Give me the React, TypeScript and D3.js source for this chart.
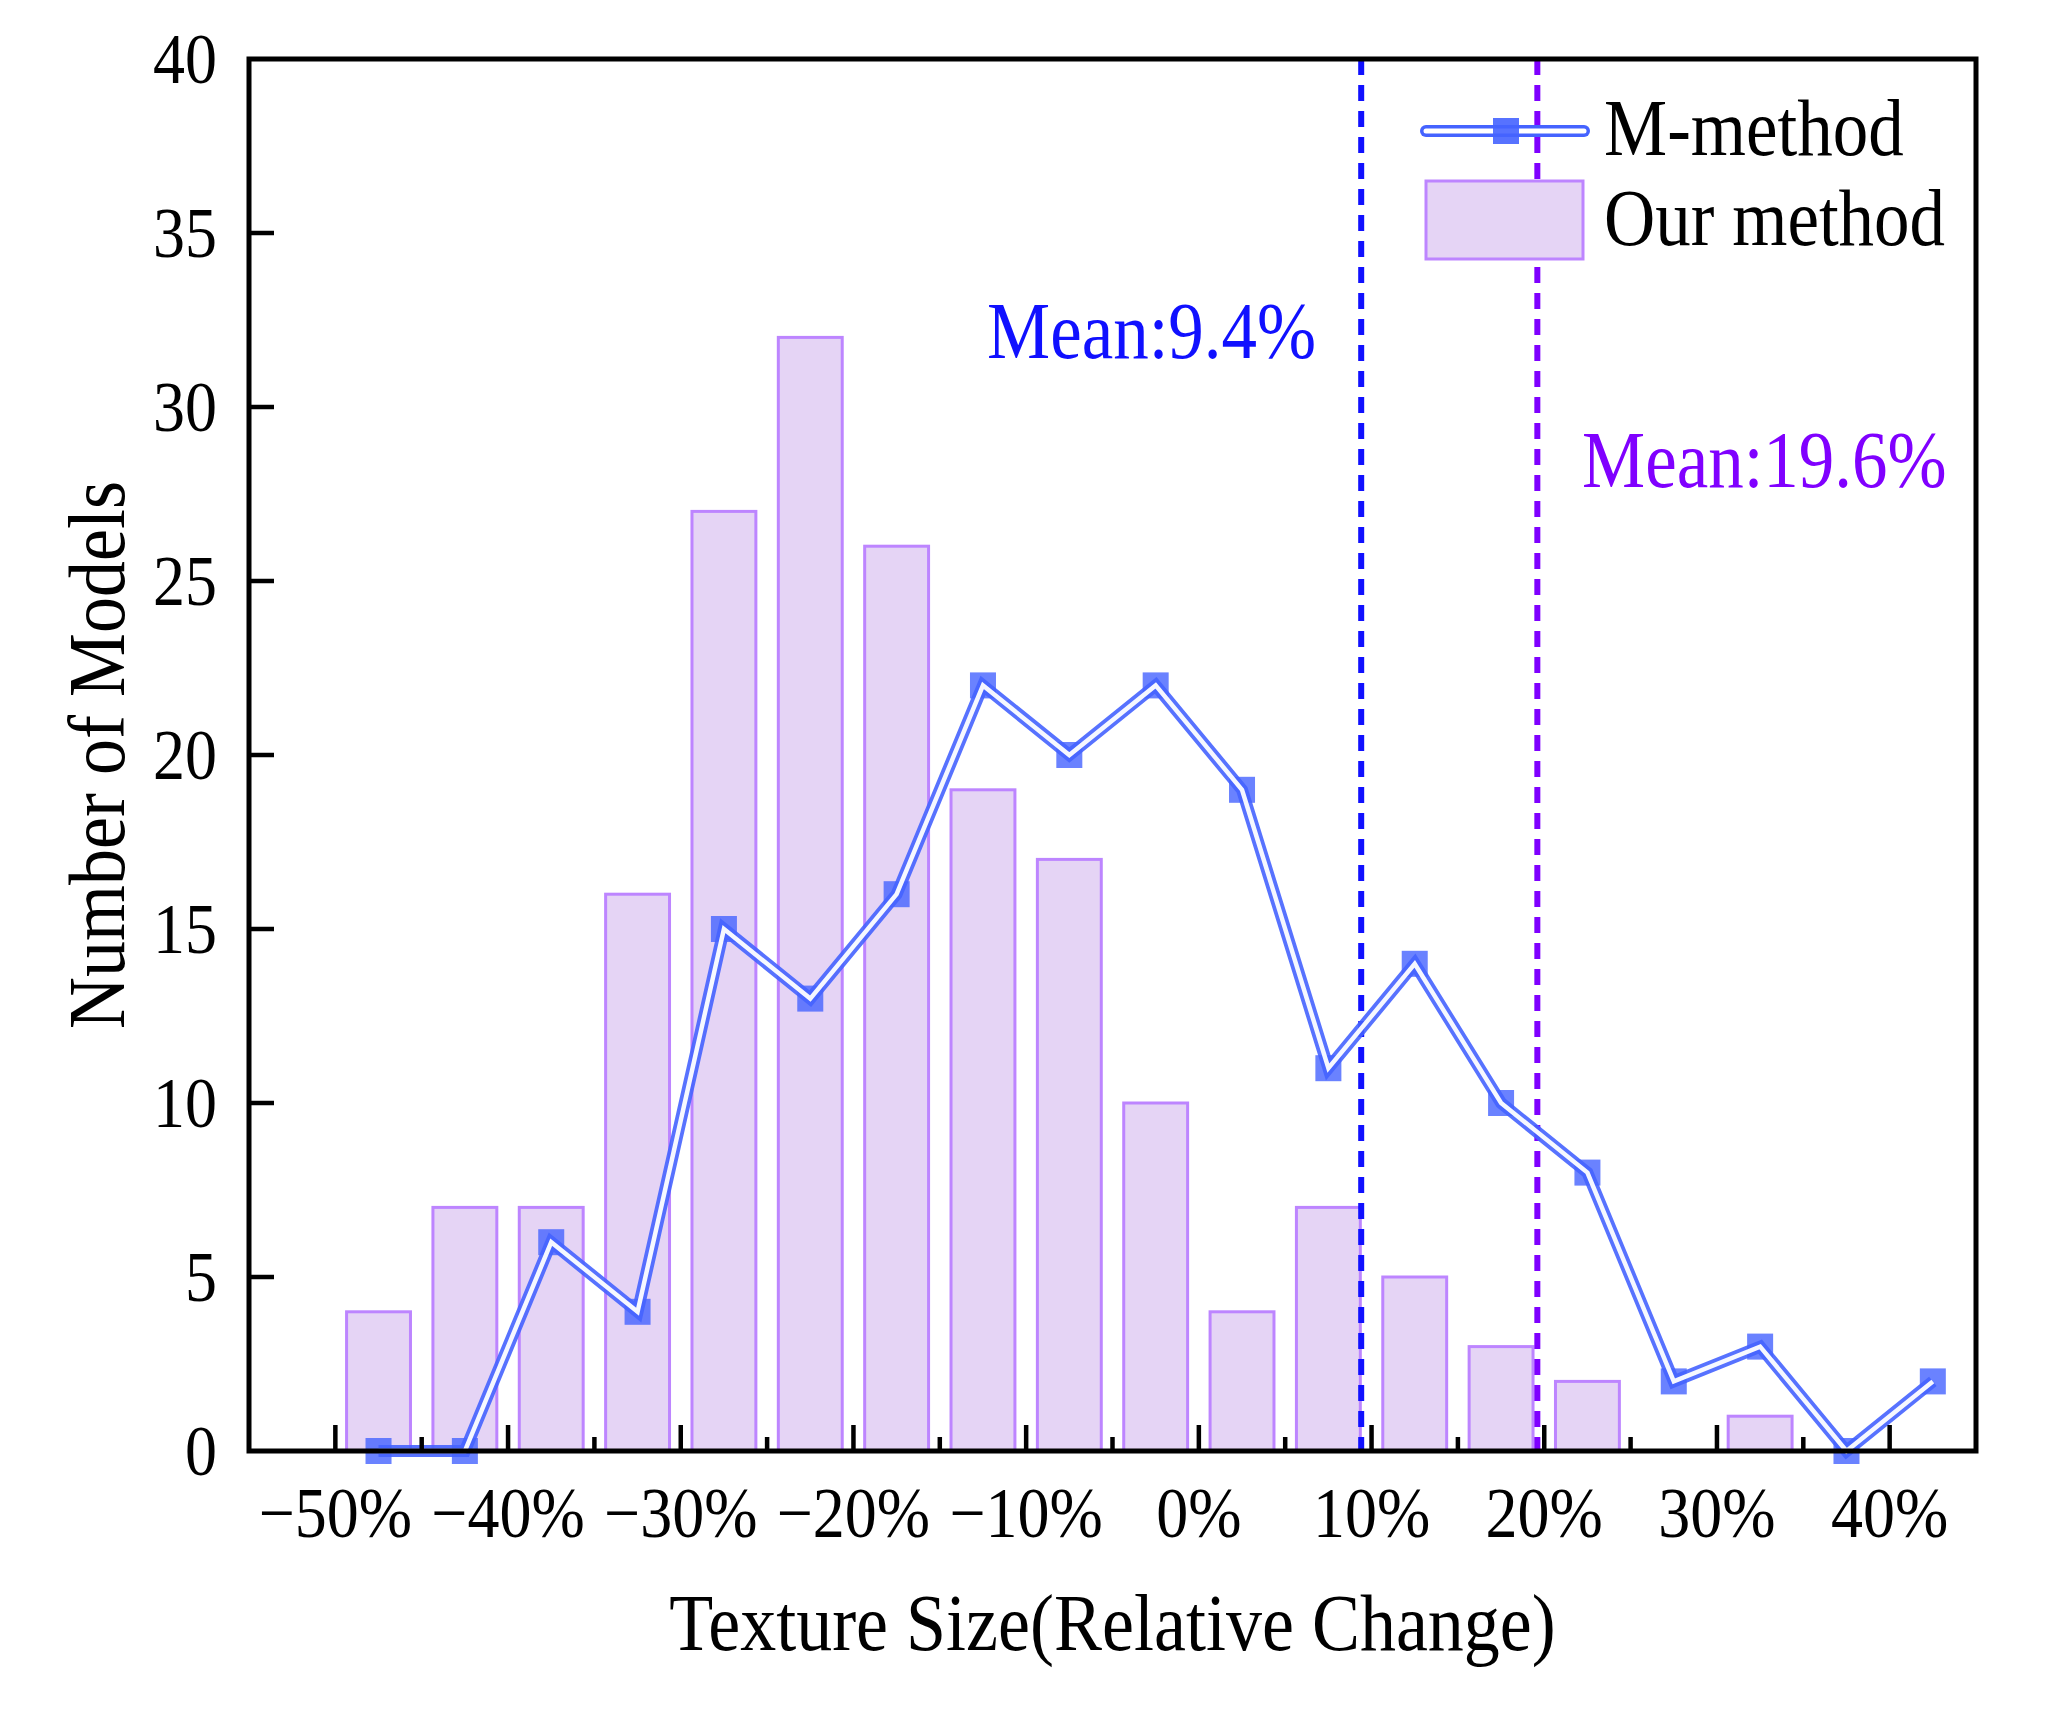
import * as d3 from "d3";

// bin centres (% relative change), 5% bins
const binCenters = [
  -47.5, -42.5, -37.5, -32.5, -27.5, -22.5, -17.5, -12.5, -7.5, -2.5,
  2.5, 7.5, 12.5, 17.5, 22.5, 27.5, 32.5, 37.5, 42.5,
];
const ourMethod = [4, 7, 7, 16, 27, 32, 26, 19, 17, 10, 4, 7, 5, 3, 2, 0, 1, 0, 0];
const mMethod = [0, 0, 6, 4, 15, 13, 16, 22, 20, 22, 19, 11, 14, 10, 8, 2, 3, 0, 2];

const xMajorTicks = [-50, -40, -30, -20, -10, 0, 10, 20, 30, 40];
const xMinorTicks = [-45, -35, -25, -15, -5, 5, 15, 25, 35];
const xTickLabels = ["\u221250%", "\u221240%", "\u221230%", "\u221220%", "\u221210%", "0%", "10%", "20%", "30%", "40%"];
const yTicks = [0, 5, 10, 15, 20, 25, 30, 35, 40];

const meanM = 9.4;
const meanOur = 19.6;

const W = 2059;
const H = 1713;
const margin = { left: 249, right: 83, top: 59, bottom: 262 };
const FONT = "'Liberation Serif', 'Times New Roman', serif";
// the original glyphs are a little taller than wide
const STRETCH = 1.12;

const LINE_BLUE = "#4563ff";
const BAR_FILL = "#e5d4f5";
const BAR_STROKE = "#bd85ff";

// text placed at a baseline point, stretched vertically
function T({ x, y, size, anchor = "start", fill = "#000", rotate = 0, children }: {
  x: number; y: number; size: number; anchor?: string; fill?: string; rotate?: number; children: any;
}) {
  return (
    <text
      transform={`translate(${x},${y}) rotate(${rotate}) scale(1,${STRETCH})`}
      fontSize={size}
      textAnchor={anchor}
      fill={fill}
    >
      {children}
    </text>
  );
}

export default function App() {
  const x = d3.scaleLinear().domain([-55, 45]).range([margin.left, W - margin.right]);
  const y = d3.scaleLinear().domain([0, 40]).range([H - margin.bottom, margin.top]);
  const barW = x(3.7) - x(0);

  const pts: [number, number][] = binCenters.map((c, i) => [x(c), y(mMethod[i])]);
  const linePath = d3.line()(pts) ?? "";

  const x0 = x.range()[0];
  const x1 = x.range()[1];
  const yB = y(0);
  const yT = y(40);
  const mk = 26;

  return (
    <svg
      width={W}
      height={H}
      style={{ position: "absolute", left: 0, top: 0, background: "#fff" }}
      fontFamily={FONT}
    >
      {/* bars */}
      <g>
        {binCenters.map((c, i) =>
          ourMethod[i] > 0 ? (
            <rect
              key={c}
              x={x(c) - barW / 2}
              y={y(ourMethod[i])}
              width={barW}
              height={yB - y(ourMethod[i])}
              fill={BAR_FILL}
              stroke={BAR_STROKE}
              strokeWidth={3}
            />
          ) : null
        )}
      </g>

      {/* mean lines */}
      <line x1={x(meanM)} x2={x(meanM)} y1={yT} y2={yB} stroke="#1010ff" strokeWidth={6} strokeDasharray="16 10" />
      <line x1={x(meanOur)} x2={x(meanOur)} y1={yT} y2={yB} stroke="#7f00ff" strokeWidth={6} strokeDasharray="16 10" />

      {/* M-method line */}
      <g>
        {pts.map(([px, py], i) => (
          <rect key={i} x={px - mk / 2} y={py - mk / 2} width={mk} height={mk} fill={LINE_BLUE} opacity={0.8} />
        ))}
        <path d={linePath} fill="none" stroke={LINE_BLUE} strokeWidth={12} strokeLinejoin="miter" opacity={0.9} />
        <path d={linePath} fill="none" stroke="#fff" strokeWidth={4.5} strokeLinejoin="miter" opacity={0.95} />
      </g>

      {/* frame */}
      <rect x={x0} y={yT} width={x1 - x0} height={yB - yT} fill="none" stroke="#000" strokeWidth={5} />

      {/* x ticks */}
      {xMajorTicks.map((t, i) => (
        <g key={t}>
          <line x1={x(t)} x2={x(t)} y1={yB} y2={yB - 26} stroke="#000" strokeWidth={4.5} />
          <T x={x(t)} y={yB + 86} size={64} anchor="middle">
            {xTickLabels[i]}
          </T>
        </g>
      ))}
      {xMinorTicks.map((t) => (
        <line key={t} x1={x(t)} x2={x(t)} y1={yB} y2={yB - 14} stroke="#000" strokeWidth={4.5} />
      ))}

      {/* y ticks */}
      {yTicks.map((t) => (
        <g key={t}>
          {t > 0 && t < 40 ? (
            <line x1={x0} x2={x0 + 25} y1={y(t)} y2={y(t)} stroke="#000" strokeWidth={4.5} />
          ) : null}
          <T x={x0 - 32} y={y(t) + 24} size={64} anchor="end">
            {t}
          </T>
        </g>
      ))}

      {/* axis titles */}
      <T x={(x0 + x1) / 2} y={1650} size={72} anchor="middle">
        Texture Size(Relative Change)
      </T>
      <T x={124} y={(yT + yB) / 2} size={72} anchor="middle" rotate={-90}>
        Number of Models
      </T>

      {/* mean labels */}
      <T x={987} y={358} size={71} fill="#1010ff">
        Mean:9.4%
      </T>
      <T x={1582} y={487} size={71} fill="#8000ff">
        Mean:19.6%
      </T>

      {/* legend */}
      <g>
        <line x1={1426} x2={1584} y1={131} y2={131} stroke={LINE_BLUE} strokeWidth={12} strokeLinecap="round" />
        <line x1={1426} x2={1584} y1={131} y2={131} stroke="#fff" strokeWidth={5} strokeLinecap="round" />
        <rect x={1506 - mk / 2} y={131 - mk / 2} width={mk} height={mk} fill={LINE_BLUE} opacity={0.9} />
        <T x={1604} y={155} size={71}>
          M-method
        </T>
        <rect x={1426} y={181} width={157} height={78} fill={BAR_FILL} stroke={BAR_STROKE} strokeWidth={3} />
        <T x={1604} y={245} size={71}>
          Our method
        </T>
      </g>
    </svg>
  );
}
